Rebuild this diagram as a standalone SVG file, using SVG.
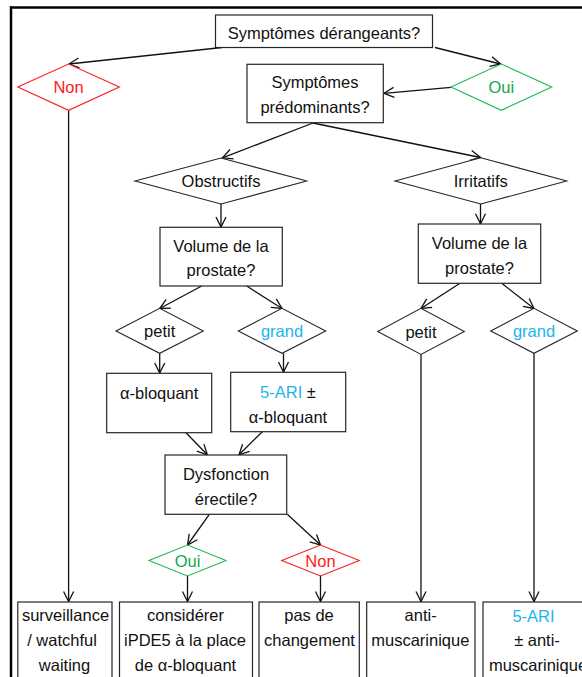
<svg xmlns="http://www.w3.org/2000/svg" width="582" height="677" viewBox="0 0 582 677">
<style>
.bx{fill:#fff;stroke:#262626;stroke-width:1.2}
.dm{fill:#fff;stroke:#262626;stroke-width:1.1}
.dr{fill:#fff;stroke:#ff1a1a;stroke-width:1.1}
.dg{fill:#fff;stroke:#1db954;stroke-width:1.1}
.t{font-family:"Liberation Sans",Arial,sans-serif;font-size:16.5px;fill:#111;text-anchor:middle}
.red{fill:#ff1a1a}
.grn{fill:#10a84a}
.blu{fill:#1ab4ee}
.cn{stroke:#111;stroke-width:1.3;fill:none;marker-end:url(#ah)}
</style>
<defs>
<marker id="ah" markerUnits="userSpaceOnUse" markerWidth="14" markerHeight="14" refX="11" refY="6" orient="auto" viewBox="0 0 14 12">
<path d="M1,1 L11,6 L1,11" fill="none" stroke="#111" stroke-width="1.3"/>
</marker>
</defs>
<rect width="582" height="677" fill="#fff"/>
<g id="frame">
<line x1="10" y1="7.5" x2="582" y2="7.5" stroke="#000" stroke-width="2.5"/>
<line x1="11" y1="6.5" x2="11" y2="677" stroke="#000" stroke-width="2.5"/>
</g>
<g id="connectors">
<line class="cn" x1="222" y1="47.5" x2="69" y2="64"/>
<line class="cn" x1="435" y1="47.5" x2="500.5" y2="64"/>
<line class="cn" x1="451" y1="87.3" x2="384" y2="93.3"/>
<line class="cn" x1="313" y1="123" x2="222.5" y2="157.8"/>
<line class="cn" x1="313" y1="123" x2="480.5" y2="157.5"/>
<line class="cn" x1="68.6" y1="110.3" x2="68.6" y2="601.5"/>
<line class="cn" x1="221" y1="204" x2="221" y2="227"/>
<line class="cn" x1="480.5" y1="204" x2="480.5" y2="223.7"/>
<line class="cn" x1="201.7" y1="286" x2="159.7" y2="308.5"/>
<line class="cn" x1="246.7" y1="286" x2="282" y2="308.5"/>
<line class="cn" x1="460" y1="283.3" x2="421" y2="308.5"/>
<line class="cn" x1="501.7" y1="283.3" x2="534" y2="308.5"/>
<line class="cn" x1="159.7" y1="353.3" x2="159.7" y2="373"/>
<line class="cn" x1="283.5" y1="353.3" x2="283.5" y2="372"/>
<line class="cn" x1="421" y1="354.5" x2="421" y2="601.5"/>
<line class="cn" x1="534" y1="353.3" x2="534" y2="601.5"/>
<line class="cn" x1="186" y1="432.7" x2="207.3" y2="454.8"/>
<line class="cn" x1="262.3" y1="431.7" x2="239" y2="454.8"/>
<line class="cn" x1="209.3" y1="514.3" x2="187.5" y2="545"/>
<line class="cn" x1="287.3" y1="514.3" x2="320.5" y2="545"/>
<line class="cn" x1="187.5" y1="576" x2="187.5" y2="601.5"/>
<line class="cn" x1="320.5" y1="576" x2="320.5" y2="601.5"/>
</g>
<g id="n-derangeants">
<rect class="bx" x="215.5" y="15" width="217" height="32.5"/>
<text class="t" x="324" y="38.5">Symptômes dérangeants?</text>
</g>
<g id="n-non1">
<polygon class="dr" points="17.8,87 68.6,64 119.4,87 68.6,110.3"/>
<text class="t red" x="68.6" y="93">Non</text>
</g>
<g id="n-oui1">
<polygon class="dg" points="451,87 501.3,64 551.7,87 501.3,110.3"/>
<text class="t grn" x="501.3" y="93">Oui</text>
</g>
<g id="n-predominants">
<rect class="bx" x="247" y="64.3" width="136.3" height="58.4"/>
<text class="t" x="315" y="88.3">Symptômes</text>
<text class="t" x="315" y="112.7">prédominants?</text>
</g>
<g id="n-obstructifs">
<polygon class="dm" points="135,181 221,158 306.7,181 221,204"/>
<text class="t" x="221" y="187">Obstructifs</text>
</g>
<g id="n-irritatifs">
<polygon class="dm" points="395,181 480.8,157.7 566.7,181 480.8,204"/>
<text class="t" x="480.8" y="187">Irritatifs</text>
</g>
<g id="n-volume-l">
<rect class="bx" x="160" y="227.3" width="122.3" height="58.7"/>
<text class="t" x="221" y="251.5">Volume de la</text>
<text class="t" x="221" y="276">prostate?</text>
</g>
<g id="n-volume-r">
<rect class="bx" x="418.3" y="224" width="122.4" height="59.3"/>
<text class="t" x="479.5" y="249.3">Volume de la</text>
<text class="t" x="479.5" y="274">prostate?</text>
</g>
<g id="n-petit-l">
<polygon class="dm" points="116,331 159.7,308.3 203.3,331 159.7,353.3"/>
<text class="t" x="159.7" y="337">petit</text>
</g>
<g id="n-grand-l">
<polygon class="dm" points="238.3,331 282,308.3 325.7,331 282,353.3"/>
<text class="t blu" x="282" y="337">grand</text>
</g>
<g id="n-petit-r">
<polygon class="dm" points="377.7,331.5 421,308.3 464.3,331.5 421,354.5"/>
<text class="t" x="421" y="337.5">petit</text>
</g>
<g id="n-grand-r">
<polygon class="dm" points="490.7,331 534,308.3 577.3,331 534,353.3"/>
<text class="t blu" x="534" y="337">grand</text>
</g>
<g id="n-alpha">
<rect class="bx" x="106.7" y="373.3" width="105" height="59.4"/>
<text class="t" x="159.2" y="399">α-bloquant</text>
</g>
<g id="n-5ari">
<rect class="bx" x="230.7" y="372.3" width="115" height="59.4"/>
<text class="t" x="288" y="397.7"><tspan class="blu">5-ARI</tspan> ±</text>
<text class="t" x="288" y="422.5">α-bloquant</text>
</g>
<g id="n-dysfonction">
<rect class="bx" x="165" y="455" width="121.7" height="59.3"/>
<text class="t" x="226" y="480">Dysfonction</text>
<text class="t" x="226" y="504.5">érectile?</text>
</g>
<g id="n-oui2">
<polygon class="dg" points="149,560.5 187.5,545 226,560.5 187.5,576"/>
<text class="t grn" x="187.5" y="566.5">Oui</text>
</g>
<g id="n-non2">
<polygon class="dr" points="281.7,560.5 320.5,545 359.3,560.5 320.5,576"/>
<text class="t red" x="320.5" y="566.5">Non</text>
</g>
<g id="n-surveillance">
<rect class="bx" x="17.8" y="602" width="94.2" height="90"/>
<text class="t" x="65.5" y="621">surveillance</text>
<text class="t" x="62" y="646">/ watchful</text>
<text class="t" x="64.5" y="670.5">waiting</text>
</g>
<g id="n-considerer">
<rect class="bx" x="119.5" y="602" width="133" height="90"/>
<text class="t" x="185.5" y="621">considérer</text>
<text class="t" x="185" y="646">iPDE5 à la place</text>
<text class="t" x="185.5" y="670.5">de α-bloquant</text>
</g>
<g id="n-pasdechangement">
<rect class="bx" x="259" y="602" width="100.3" height="90"/>
<text class="t" x="309" y="621">pas de</text>
<text class="t" x="309.5" y="646">changement</text>
</g>
<g id="n-antimuscarinique">
<rect class="bx" x="366.7" y="602" width="108.3" height="90"/>
<text class="t" x="420.6" y="621">anti-</text>
<text class="t" x="420.3" y="646">muscarinique</text>
</g>
<g id="n-5ari-anti">
<rect class="bx" x="483" y="602" width="120" height="90"/>
<text class="t blu" x="533.5" y="621.5">5-ARI</text>
<text class="t" x="537" y="646">± anti-</text>
<text class="t" x="538" y="670.5">muscarinique</text>
</g>
</svg>
